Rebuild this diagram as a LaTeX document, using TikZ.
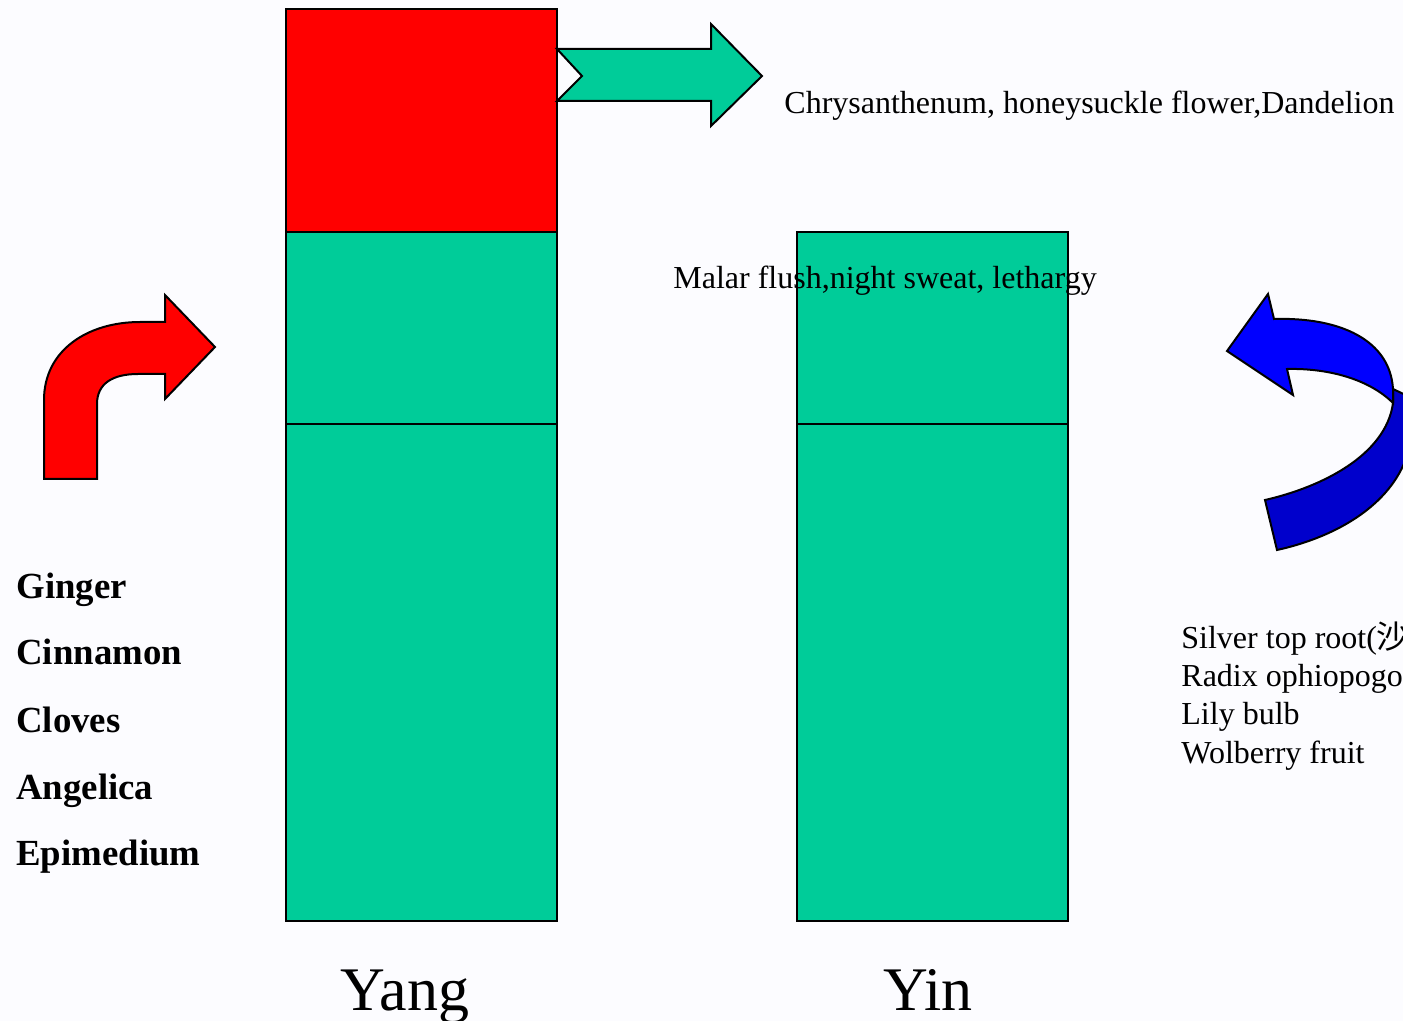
\documentclass[tikz,border=0pt]{standalone}
\usepackage{fontspec}
\setmainfont{Liberation Serif}
\newfontfamily\cjk{Noto Sans CJK SC}
\usetikzlibrary{positioning}

\definecolor{jade}{RGB}{0,204,153}
\definecolor{deepblue}{RGB}{0,0,204}
\tikzset{
  bar/.style={draw, line width=1pt, fill=jade, minimum width=135.5pt, anchor=north west, inner sep=0pt},
  herb/.style={anchor=base west, inner sep=0pt, font=\fontsize{18.4pt}{22pt}\selectfont\bfseries},
  note/.style={anchor=base west, inner sep=0pt, font=\fontsize{16pt}{19pt}\selectfont},
  side/.style={anchor=base, inner sep=0pt, font=\fontsize{31pt}{37pt}\selectfont},
  arrowshape/.style={draw, line width=1pt, line join=miter}
}

\begin{document}
\begin{tikzpicture}[x=0.5pt, y=-0.5pt]
	\useasboundingbox[fill={rgb,255:red,252;green,252;blue,255}] (0,0) rectangle (1403,1021);

	% the two columns
	\path (285,8) node (yangtop) [bar, fill=red, minimum height=111.5pt] {}
		  (285,231) node (yangmid) [bar, minimum height=96pt] {}
		  (285,423) node (yanglow) [bar, minimum height=248.5pt] {}
		  (796,231) node (yinmid) [bar, minimum height=96pt] {}
		  (796,423) node (yinlow) [bar, minimum height=248.5pt] {};

	% arrows
	\draw[arrowshape, fill=jade] (557,49) -- (711,49) -- (711,24) -- (762,76) -- (711,126) -- (711,101) -- (557,101) -- (582,76) -- cycle;
	\draw[arrowshape, fill=red] (44,479) -- (44,400) .. controls (44,350) and (88,322) .. (140,322) -- (165,322) -- (165,295) -- (215,347) -- (165,399) -- (165,374) -- (138,374) .. controls (112,374) and (97,384) .. (97,404) -- (97,479) -- cycle;
	\draw[arrowshape, fill=deepblue] (1393,389) -- (1412,398) -- (1412,430) .. controls (1408,495) and (1345,535) .. (1277,550) -- (1265,500) .. controls (1322,487) and (1386,455) .. (1393,403) -- cycle;
	\draw[arrowshape, fill=blue] (1227,351) -- (1268,294) -- (1274,319) .. controls (1340,317) and (1390,340) .. (1393,389) -- (1393,403) .. controls (1370,380) and (1330,368) .. (1287,369) -- (1293,395) -- cycle;

	% texts
	\path (784,114) node (cool) [note] {Chrysanthenum, honeysuckle flower,Dandelion}
		  (673,289) node (heat) [note] {Malar flush,night sweat, lethargy}
		  (1181,648) node (yin1) [note] {Silver top root({\cjk 沙参})}
		  (1181,686) node (yin2) [note] {Radix ophiopogonis}
		  (1181,724) node (yin3) [note] {Lily bulb}
		  (1181,763) node (yin4) [note] {Wolberry fruit};
	\path (16,598) node (yang1) [herb] {Ginger}
		  (16,664) node (yang2) [herb] {Cinnamon}
		  (16,732) node (yang3) [herb] {Cloves}
		  (16,799) node (yang4) [herb] {Angelica}
		  (16,865) node (yang5) [herb] {Epimedium};
	\path (405,1010) node (yang) [side] {Yang}
		  (928,1010) node (yin) [side] {Yin};
\end{tikzpicture}
\end{document}
